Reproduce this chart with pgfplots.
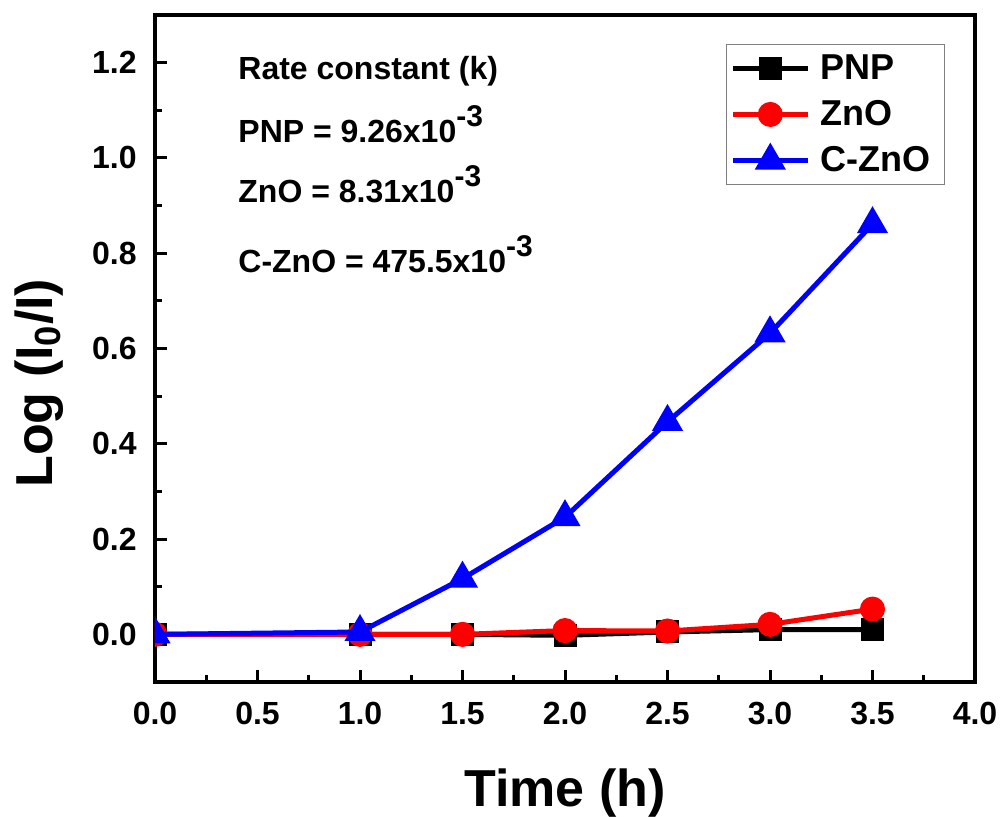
\documentclass[border=0pt]{standalone}
\usepackage{fontspec}
\setmainfont{Liberation Sans}
\usepackage{pgfplots}
\pgfplotsset{compat=1.18}
\begin{document}
\begin{tikzpicture}
\useasboundingbox (-77.5pt,-67pt) rectangle (425pt,341pt);
\begin{axis}[
  scale only axis, width=410pt, height=333.5pt,
  at={(0,0)}, anchor=south west,
  xmin=0, xmax=4, ymin=-0.1, ymax=1.3,
  clip marker paths=true,
  xtick={0,0.5,1,1.5,2,2.5,3,3.5,4},
  ytick={0,0.2,0.4,0.6,0.8,1.0,1.2},
  minor x tick num=1, minor y tick num=1,
  xtick pos=bottom, ytick pos=left, tick align=inside,
  major tick length=6pt, minor tick length=3.5pt,
  every tick/.style={black, line width=1.5pt},
  axis line style={line width=2pt},
  tick label style={font=\fontsize{16}{18}\selectfont\bfseries, inner sep=0pt},
  xticklabel style={anchor=north, yshift=-10pt},
  yticklabel style={anchor=east, xshift=-9pt},
  /pgf/number format/.cd, fixed, fixed zerofill, precision=1, assume math mode=true, /pgfplots/.cd,
  xlabel={Time (h)},
  ylabel={Log (I\textsubscript{0}/I)},
  every axis x label/.style={at={(rel axis cs:0.5,-0.187)}, anchor=base, font=\fontsize{26}{30}\selectfont\bfseries},
  every axis y label/.style={at={(rel axis cs:-0.1256,0.448)}, anchor=base, rotate=90, font=\fontsize{26}{30}\selectfont\bfseries},
  legend style={at={(rel axis cs:0.696,0.9565)}, anchor=north west, draw=gray, line width=0.6pt,
    font=\fontsize{18}{20}\selectfont\bfseries, inner xsep=2pt, inner ysep=3pt, row sep=5pt,
    nodes={inner xsep=5pt}},
  legend cell align=left,
  legend image code/.code={\draw[mark repeat=2, mark phase=2, #1] plot coordinates {(0pt,0pt) (18.75pt,0pt) (37.5pt,0pt)};},
]
\addplot[black, line width=2.5pt, mark=square*, mark size=4.5pt, mark options={solid}] coordinates {
(0,0) (1,0) (1.5,0) (2,-0.002) (2.5,0.005) (3,0.01) (3.5,0.01)};
\addlegendentry{PNP}
\addplot[red, line width=2.5pt, mark=*, mark size=5pt, mark options={solid}] coordinates {
(0,0) (1,0) (1.5,0) (2,0.008) (2.5,0.007) (3,0.021) (3.5,0.053)};
\addlegendentry{ZnO}
\addplot[blue, line width=2.5pt, mark=triangle*, mark size=6.5pt, mark options={solid}] coordinates {
(0,0) (1,0.005) (1.5,0.117) (2,0.246) (2.5,0.446) (3,0.632) (3.5,0.861)};
\addlegendentry{C-ZnO}
\node[anchor=base west, font=\fontsize{16}{18}\selectfont\bfseries, inner sep=0pt] at (axis cs:0.405,1.1636) {Rate constant (k)};
\node[anchor=base west, font=\fontsize{16}{18}\selectfont\bfseries, inner sep=0pt] at (axis cs:0.405,1.0334) {PNP = 9.26x10\raisebox{8pt}{\fontsize{15}{16}\selectfont -3}};
\node[anchor=base west, font=\fontsize{16}{18}\selectfont\bfseries, inner sep=0pt] at (axis cs:0.405,0.9075) {ZnO = 8.31x10\raisebox{8pt}{\fontsize{15}{16}\selectfont -3}};
\node[anchor=base west, font=\fontsize{16}{18}\selectfont\bfseries, inner sep=0pt] at (axis cs:0.405,0.7585) {C-ZnO = 475.5x10\raisebox{8pt}{\fontsize{15}{16}\selectfont -3}};
\end{axis}
\end{tikzpicture}
\end{document}
